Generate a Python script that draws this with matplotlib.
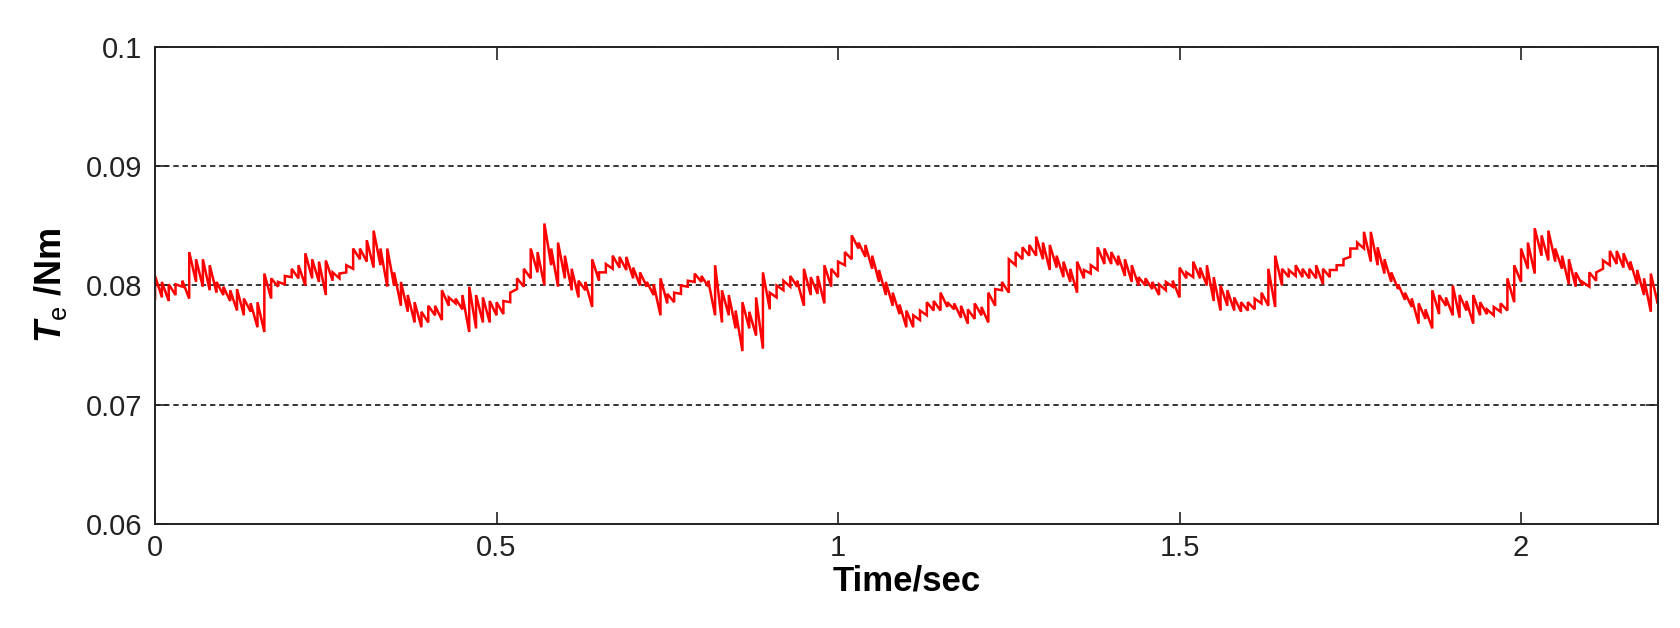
import matplotlib
matplotlib.use('Agg')
import matplotlib.pyplot as plt
import numpy as np

plt.rcParams['font.family'] = ['Liberation Sans', 'DejaVu Sans']
plt.rcParams['mathtext.fontset'] = 'custom'
plt.rcParams['mathtext.it'] = 'Liberation Sans:italic:bold'
plt.rcParams['mathtext.rm'] = 'Liberation Sans'

# time base, one reading every 10 ms
t = np.round(np.arange(0, 221) * 0.01, 2)

# upper edge of the torque ripple (Nm)
te_hi = [
    0.0808, 0.0803, 0.0801, 0.0801, 0.0804, 0.0828, 0.0822, 0.0822, 0.0817, 0.0803,
    0.0799, 0.0796, 0.0797, 0.0789, 0.0785, 0.0786, 0.0810, 0.0806, 0.0803, 0.0808,
    0.0814, 0.0817, 0.0827, 0.0822, 0.0820, 0.0821, 0.0811, 0.0810, 0.0817, 0.0831,
    0.0831, 0.0838, 0.0846, 0.0831, 0.0831, 0.0811, 0.0803, 0.0792, 0.0786, 0.0778,
    0.0783, 0.0783, 0.0796, 0.0790, 0.0789, 0.0792, 0.0799, 0.0792, 0.0790, 0.0787,
    0.0786, 0.0787, 0.0794, 0.0806, 0.0814, 0.0831, 0.0828, 0.0852, 0.0831, 0.0836,
    0.0825, 0.0814, 0.0804, 0.0803, 0.0822, 0.0811, 0.0818, 0.0825, 0.0824, 0.0824,
    0.0815, 0.0811, 0.0803, 0.0801, 0.0806, 0.0793, 0.0794, 0.0800, 0.0804, 0.0810,
    0.0808, 0.0804, 0.0817, 0.0796, 0.0792, 0.0779, 0.0786, 0.0778, 0.0790, 0.0811,
    0.0794, 0.0800, 0.0804, 0.0808, 0.0804, 0.0814, 0.0807, 0.0808, 0.0817, 0.0814,
    0.0820, 0.0828, 0.0842, 0.0836, 0.0834, 0.0825, 0.0813, 0.0803, 0.0794, 0.0784,
    0.0779, 0.0775, 0.0779, 0.0786, 0.0787, 0.0794, 0.0786, 0.0785, 0.0783, 0.0780,
    0.0785, 0.0782, 0.0794, 0.0797, 0.0803, 0.0822, 0.0828, 0.0832, 0.0834, 0.0841,
    0.0836, 0.0834, 0.0825, 0.0820, 0.0814, 0.0820, 0.0813, 0.0817, 0.0832, 0.0831,
    0.0828, 0.0825, 0.0822, 0.0817, 0.0807, 0.0806, 0.0803, 0.0801, 0.0803, 0.0804,
    0.0815, 0.0811, 0.0820, 0.0815, 0.0817, 0.0807, 0.0800, 0.0796, 0.0790, 0.0786,
    0.0786, 0.0789, 0.0794, 0.0814, 0.0825, 0.0814, 0.0813, 0.0817, 0.0814, 0.0814,
    0.0817, 0.0814, 0.0813, 0.0817, 0.0822, 0.0831, 0.0836, 0.0845, 0.0845, 0.0832,
    0.0822, 0.0811, 0.0801, 0.0794, 0.0789, 0.0785, 0.0780, 0.0796, 0.0792, 0.0790,
    0.0800, 0.0792, 0.0787, 0.0792, 0.0786, 0.0780, 0.0782, 0.0785, 0.0806, 0.0817,
    0.0831, 0.0836, 0.0848, 0.0842, 0.0846, 0.0831, 0.0825, 0.0822, 0.0811, 0.0803,
    0.0811, 0.0811, 0.0821, 0.0829, 0.0829, 0.0827, 0.0820, 0.0813, 0.0806, 0.0810,
    0.0792,
]

# lower edge of the torque ripple (Nm)
te_lo = [
    0.0789, 0.0790, 0.0787, 0.0792, 0.0799, 0.0789, 0.0803, 0.0799, 0.0796, 0.0794,
    0.0792, 0.0787, 0.0779, 0.0775, 0.0778, 0.0765, 0.0761, 0.0789, 0.0799, 0.0801,
    0.0807, 0.0806, 0.0800, 0.0806, 0.0803, 0.0792, 0.0804, 0.0806, 0.0811, 0.0814,
    0.0822, 0.0820, 0.0815, 0.0817, 0.0799, 0.0800, 0.0783, 0.0778, 0.0769, 0.0765,
    0.0769, 0.0775, 0.0771, 0.0783, 0.0785, 0.0780, 0.0761, 0.0764, 0.0769, 0.0769,
    0.0775, 0.0776, 0.0786, 0.0797, 0.0799, 0.0806, 0.0811, 0.0800, 0.0817, 0.0799,
    0.0806, 0.0796, 0.0790, 0.0796, 0.0782, 0.0804, 0.0811, 0.0814, 0.0815, 0.0813,
    0.0806, 0.0800, 0.0799, 0.0792, 0.0775, 0.0785, 0.0786, 0.0793, 0.0799, 0.0803,
    0.0803, 0.0799, 0.0775, 0.0769, 0.0775, 0.0764, 0.0745, 0.0764, 0.0758, 0.0747,
    0.0780, 0.0790, 0.0796, 0.0799, 0.0799, 0.0783, 0.0792, 0.0793, 0.0785, 0.0799,
    0.0807, 0.0817, 0.0822, 0.0831, 0.0824, 0.0814, 0.0803, 0.0792, 0.0783, 0.0776,
    0.0765, 0.0765, 0.0771, 0.0775, 0.0779, 0.0779, 0.0782, 0.0780, 0.0773, 0.0768,
    0.0772, 0.0775, 0.0769, 0.0783, 0.0796, 0.0794, 0.0817, 0.0822, 0.0825, 0.0825,
    0.0822, 0.0813, 0.0815, 0.0807, 0.0803, 0.0794, 0.0806, 0.0810, 0.0813, 0.0818,
    0.0818, 0.0817, 0.0808, 0.0803, 0.0800, 0.0800, 0.0797, 0.0792, 0.0796, 0.0799,
    0.0790, 0.0806, 0.0807, 0.0806, 0.0800, 0.0787, 0.0779, 0.0783, 0.0779, 0.0778,
    0.0779, 0.0780, 0.0785, 0.0783, 0.0782, 0.0800, 0.0807, 0.0808, 0.0807, 0.0806,
    0.0806, 0.0801, 0.0807, 0.0813, 0.0817, 0.0824, 0.0831, 0.0831, 0.0820, 0.0817,
    0.0810, 0.0803, 0.0797, 0.0788, 0.0782, 0.0768, 0.0772, 0.0764, 0.0776, 0.0783,
    0.0775, 0.0773, 0.0779, 0.0768, 0.0775, 0.0776, 0.0775, 0.0778, 0.0779, 0.0786,
    0.0803, 0.0814, 0.0810, 0.0825, 0.0821, 0.0820, 0.0814, 0.0801, 0.0799, 0.0800,
    0.0799, 0.0804, 0.0814, 0.0817, 0.0818, 0.0815, 0.0813, 0.0801, 0.0792, 0.0778,
    0.0785,
]

x_ticks = [0, 0.5, 1, 1.5, 2]
x_ticklabels = ['0', '0.5', '1', '1.5', '2']
y_ticks = [0.06, 0.07, 0.08, 0.09, 0.1]
y_ticklabels = ['0.06', '0.07', '0.08', '0.09', '0.1']

# each reading becomes a vertical stroke lo -> hi, like the sampled ripple
trace_t = np.repeat(t, 2)
trace_te = np.column_stack([te_lo, te_hi]).ravel()

fig = plt.figure(figsize=(16.8, 6.28), dpi=100)
ax = fig.add_axes([0.0923, 0.1656, 0.8944, 0.7596])

ax.plot(trace_t, trace_te, color='#ff0000', lw=1.8, solid_joinstyle='miter')

ax.set_xlim(0, 2.2)
ax.set_ylim(0.06, 0.1)
ax.set_xticks(x_ticks)
ax.set_xticklabels(x_ticklabels)
ax.set_yticks(y_ticks)
ax.set_yticklabels(y_ticklabels)

ax.yaxis.grid(True, linestyle=(0, (3.5, 2.5)), color='black', lw=1.1)
ax.xaxis.grid(False)

ax.tick_params(direction='in', length=9, width=1.2, top=True, right=True,
               labelsize=21, colors='#222222')
ax.tick_params(axis='x', pad=7)
ax.tick_params(axis='y', pad=9)
for sp in ax.spines.values():
    sp.set_linewidth(1.4)
    sp.set_color('#222222')

ax.set_xlabel('Time/sec', fontsize=25, fontweight='bold', labelpad=2)
ax.set_ylabel(r'$\mathit{T}_{\mathrm{e}}$ /Nm', fontsize=26,
              fontweight='bold', labelpad=12)

fig.savefig('out.png', dpi=100, facecolor='white')
